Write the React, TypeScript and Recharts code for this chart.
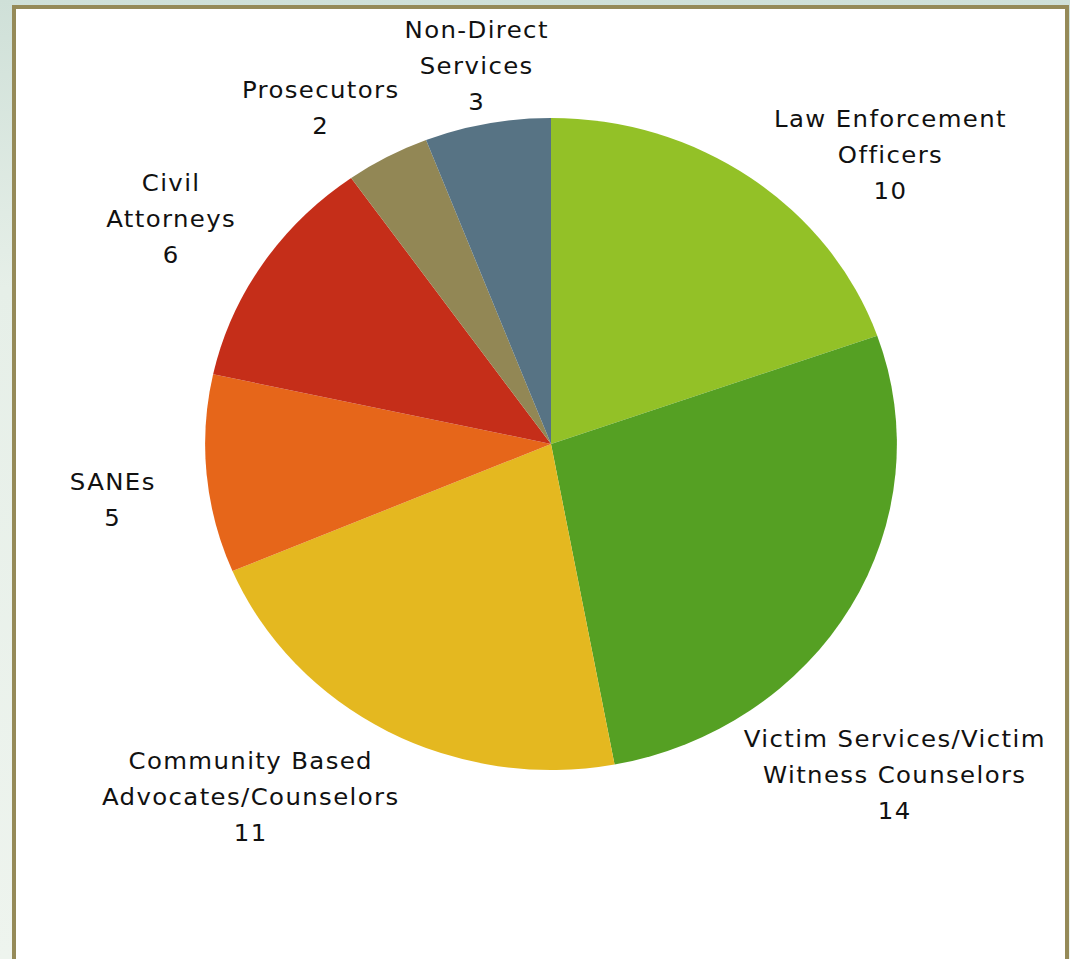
import { PieChart, Pie, Cell } from "recharts";

const ROLES = [
  "Law Enforcement Officers",
  "Victim Services/Victim Witness Counselors",
  "Community Based Advocates/Counselors",
  "SANEs",
  "Civil Attorneys",
  "Prosecutors",
  "Non-Direct Services",
];
const COUNTS = [10, 14, 11, 5, 6, 2, 3];
// how each label is broken over lines, as in the original slide
const LABEL_LINES = [
  ["Law Enforcement", "Officers"],
  ["Victim Services/Victim", "Witness Counselors"],
  ["Community Based", "Advocates/Counselors"],
  ["SANEs"],
  ["Civil", "Attorneys"],
  ["Prosecutors"],
  ["Non-Direct", "Services"],
];
const COLORS = [
  "#93c127",
  "#55a023",
  "#e4b820",
  "#e6661a",
  "#c52e19",
  "#928755",
  "#577384",
];
// label block centres, relative to the pie centre (before the horizontal stretch)
const LABEL_OFFSETS = [
  [320, -289],
  [324, 331],
  [-283, 353],
  [-413, 56],
  [-358, -225],
  [-217, -336],
  [-70, -378],
];

const data = ROLES.map((role, i) => ({
  name: role,
  value: COUNTS[i],
  lines: LABEL_LINES[i],
}));

const STRETCH = 1.061;
const CX = 551;
const CY = 444;
const LINE_H = 36;

function renderLabel(props: any) {
  const { cx, cy, index, payload } = props;
  const lines: string[] = [...(payload.lines ?? payload.payload?.lines ?? []), String(payload.value)];
  const [dx, dy] = LABEL_OFFSETS[index];
  const x = cx + dx;
  const top = cy + dy - ((lines.length - 1) * LINE_H) / 2;
  return (
    <text
      x={x}
      y={top}
      textAnchor="middle"
      dominantBaseline="central"
      fill="#111111"
      fontFamily="'DejaVu Sans', sans-serif"
      fontSize={23}
      letterSpacing={1.3}
    >
      {lines.map((line, i) => (
        <tspan key={i} x={x} y={top + i * LINE_H}>
          {line}
        </tspan>
      ))}
    </text>
  );
}

export default function App() {
  return (
    <div
      style={{
        position: "absolute",
        left: 0,
        top: 0,
        width: 1070,
        height: 959,
        overflow: "hidden",
        background: "linear-gradient(180deg, #cfe0d8 0%, #e6efe8 30%, #eef4ee 100%)",
      }}
    >
      <div
        style={{
          position: "absolute",
          left: 12,
          top: 5,
          width: 1057,
          height: 980,
          boxSizing: "border-box",
          border: "4px solid #958a58",
          background: "#ffffff",
        }}
      />
      <div
        style={{
          position: "absolute",
          left: 0,
          top: 0,
          transform: `scaleX(${STRETCH})`,
          transformOrigin: `${CX}px ${CY}px`,
        }}
      >
        <PieChart width={1070} height={959} margin={{ top: 0, right: 0, bottom: 0, left: 0 }}>
          <Pie
            data={data}
            dataKey="value"
            nameKey="name"
            cx={CX}
            cy={CY}
            outerRadius={326}
            startAngle={90}
            endAngle={-270}
            stroke="none"
            label={renderLabel}
            labelLine={false}
            isAnimationActive={false}
          >
            {data.map((d, i) => (
              <Cell key={d.name} fill={COLORS[i]} />
            ))}
          </Pie>
        </PieChart>
      </div>
    </div>
  );
}
